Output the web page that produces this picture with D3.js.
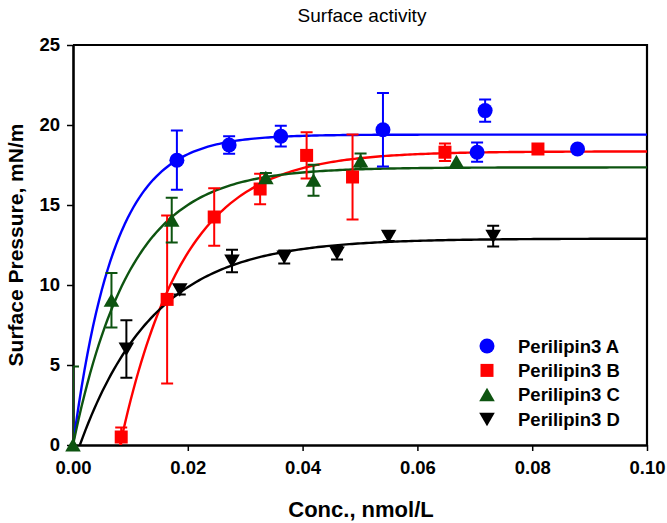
<!DOCTYPE html>
<html>
<head>
<meta charset="utf-8">
<script src="https://cdn.jsdelivr.net/npm/d3@7"></script>
<style>
  html, body { margin: 0; padding: 0; background: #fff; }
  svg { display: block; }
  text { font-family: "Liberation Sans", Arial, Helvetica, sans-serif; }
</style>
</head>
<body>
<svg id="chart" width="667" height="523"></svg>
<script>
// ---------- data ----------
const seriesNames = ["Perilipin3 A", "Perilipin3 B", "Perilipin3 C", "Perilipin3 D"];
const seriesColors = ["#0000ff", "#ff0000", "#0d5410", "#000000"];
const seriesShapes = ["circle", "square", "triangleUp", "triangleDown"];

const xA = [0.0181, 0.0272, 0.0362, 0.0540, 0.0704, 0.0718, 0.0879];
const yA = [17.8, 18.75, 19.3, 19.7, 18.3, 20.9, 18.5];
const eA = [1.85, 0.55, 0.65, 2.3, 0.6, 0.7, 0];

const xB = [0.0084, 0.0164, 0.0246, 0.0326, 0.0407, 0.0487, 0.0648, 0.0810];
const yB = [0.5, 9.1, 14.25, 16.0, 18.1, 16.75, 18.3, 18.5];
const eB = [0.6, 5.25, 1.8, 0.95, 1.45, 2.65, 0.55, 0];

const xC = [0.0, 0.0067, 0.0172, 0.0336, 0.0419, 0.0501, 0.0668];
const yC = [0.0, 9.05, 14.05, 16.7, 16.55, 17.75, 17.7];
const eC = [4.9, 1.7, 1.4, 0.3, 0.97, 0.47, 0];

const xD = [0.0093, 0.0186, 0.0277, 0.0368, 0.0460, 0.0550, 0.0732];
const yD = [6.0, 9.7, 11.5, 11.75, 12.0, 13.05, 13.05];
const eD = [1.8, 0.3, 0.7, 0.4, 0.4, 0.3, 0.65];

// fitted exponential rise to maximum: y = a * (1 - exp(-b * (x - x0)))
const fitA = [19.4, 138, 0.0];
const fitB = [18.35, 90, 0.0082];
const fitC = [17.35, 100, 0.0];
const fitD = [12.9, 77, 0.0012];

const xTicks = [0.00, 0.02, 0.04, 0.06, 0.08, 0.10];
const yTicks = [0, 5, 10, 15, 20, 25];

const titleText = "Surface activity";
const xLabel = "Conc., nmol/L";
const yLabel = "Surface Pressure, mN/m";

// ---------- layout ----------
const W = 667, H = 523;
const margin = { left: 73, right: 20, top: 45, bottom: 78 };
const pw = W - margin.left - margin.right;
const ph = H - margin.top - margin.bottom;

const svg = d3.select("#chart");
const x = d3.scaleLinear().domain([0, 0.1]).range([margin.left, margin.left + pw]);
const y = d3.scaleLinear().domain([0, 25]).range([margin.top + ph, margin.top]);

const series = [
  { xs: xA, ys: yA, es: eA, fit: fitA },
  { xs: xB, ys: yB, es: eB, fit: fitB },
  { xs: xC, ys: yC, es: eC, fit: fitC },
  { xs: xD, ys: yD, es: eD, fit: fitD }
];

function shapePath(shape) {
  switch (shape) {
    case "circle": return d3.symbol().type(d3.symbolCircle).size(Math.PI * 7.5 * 7.5)();
    case "square": return "M-6.5,-6.5H6.5V6.5H-6.5Z";
    case "triangleUp": return "M0,-7L7.8,6.5H-7.8Z";
    case "triangleDown": return "M0,7L7.8,-6.5H-7.8Z";
  }
}

// clip for curves and error bars
svg.append("defs").append("clipPath").attr("id", "plotclip")
  .append("rect").attr("x", margin.left).attr("y", margin.top).attr("width", pw).attr("height", ph);

// title
svg.append("text").attr("x", x(0.05) + 2).attr("y", 22)
  .attr("text-anchor", "middle").attr("font-size", 19).attr("fill", "#000")
  .text(titleText);

// frame (top and right)
svg.append("path")
  .attr("d", `M${margin.left},${margin.top}H${margin.left + pw}V${margin.top + ph}`)
  .attr("fill", "none").attr("stroke", "#000").attr("stroke-width", 2.2);

// axes
const xAxis = d3.axisBottom(x).tickValues(xTicks).tickSizeInner(6).tickSizeOuter(0).tickPadding(10)
  .tickFormat(d3.format(".2f"));
const yAxis = d3.axisLeft(y).tickValues(yTicks).tickSizeInner(6).tickSizeOuter(0).tickPadding(7)
  .tickFormat(d3.format("d"));

const gx = svg.append("g").attr("transform", `translate(0,${margin.top + ph})`).call(xAxis);
const gy = svg.append("g").attr("transform", `translate(${margin.left},0)`).call(yAxis);
[gx, gy].forEach(g => {
  g.select(".domain").attr("stroke", "#000").attr("stroke-width", 2.6);
  g.selectAll(".tick line").attr("stroke", "#000").attr("stroke-width", 1.5);
  g.selectAll(".tick text").attr("font-size", 18.5).attr("font-weight", "bold").attr("fill", "#000")
    .attr("font-family", "'Liberation Sans', Arial, sans-serif");
});

// axis titles
svg.append("text").attr("x", x(0.05) + 1).attr("y", 517)
  .attr("text-anchor", "middle").attr("font-size", 22).attr("font-weight", "bold").text(xLabel);
svg.append("text").attr("transform", `translate(23,${y(12.5)}) rotate(-90)`)
  .attr("text-anchor", "middle").attr("font-size", 21).attr("font-weight", "bold").text(yLabel);

// curves
const plot = svg.append("g");
series.forEach((s, i) => {
  const [a, b, x0] = s.fit;
  const xs = d3.range(0, 201).map(k => x0 + (0.1 - x0) * k / 200);
  const pts = xs.map(v => [v, a * (1 - Math.exp(-b * (v - x0)))]);
  plot.append("path")
    .attr("d", d3.line().x(d => x(d[0])).y(d => y(d[1]))(pts))
    .attr("fill", "none").attr("stroke", seriesColors[i]).attr("stroke-width", 2.4)
    .attr("clip-path", "url(#plotclip)");
});

// error bars and markers
series.forEach((s, i) => {
  const g = svg.append("g");
  const eg = g.append("g").attr("clip-path", "url(#plotclip)");
  s.xs.forEach((xv, j) => {
    const e = s.es[j];
    if (e > 0) {
      const cx = x(xv), top = y(s.ys[j] + e), bot = y(s.ys[j] - e);
      eg.append("path")
        .attr("d", `M${cx},${top}V${bot}M${cx - 6},${top}H${cx + 6}M${cx - 6},${bot}H${cx + 6}`)
        .attr("stroke", seriesColors[i]).attr("stroke-width", 2).attr("fill", "none");
    }
  });
  g.selectAll("path.pt").data(s.xs.map((xv, j) => [xv, s.ys[j]])).enter()
    .append("path").attr("class", "pt")
    .attr("transform", d => `translate(${x(d[0])},${y(d[1])})`)
    .attr("d", shapePath(seriesShapes[i]))
    .attr("fill", seriesColors[i]);
});

// legend
const legendX = 487, legendTextX = 518, legendY0 = 346, legendDy = 24.4;
seriesNames.forEach((name, i) => {
  const cy = legendY0 + i * legendDy;
  svg.append("path").attr("transform", `translate(${legendX},${cy})`)
    .attr("d", shapePath(seriesShapes[i])).attr("fill", seriesColors[i]);
  svg.append("text").attr("x", legendTextX).attr("y", cy + 6.5)
    .attr("font-size", 18.5).attr("font-weight", "bold").attr("fill", "#000").text(name);
});
</script>
</body>
</html>
